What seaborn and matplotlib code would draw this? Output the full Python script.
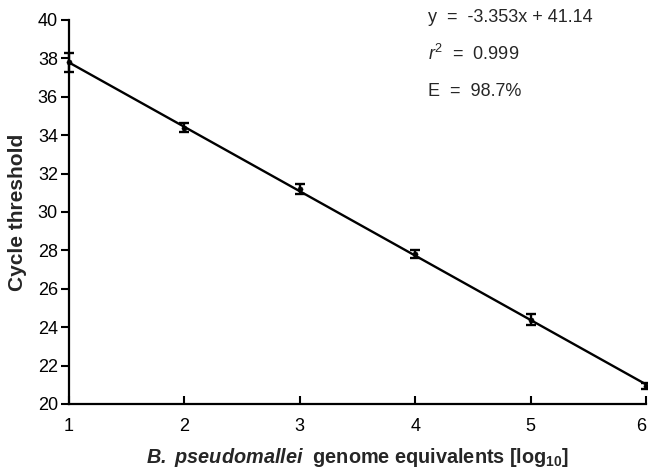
import matplotlib
matplotlib.use("Agg")
import matplotlib.pyplot as plt
import seaborn as sns
import numpy as np
import pandas as pd

# Data
log_ge = [1, 2, 3, 4, 5, 6]
ct_mean = [37.8, 34.4, 31.2, 27.8, 24.4, 20.95]
ct_err = [0.5, 0.25, 0.25, 0.22, 0.3, 0.15]
slope = -3.353
intercept = 41.14
x_ticks = [1, 2, 3, 4, 5, 6]
y_ticks = [20, 22, 24, 26, 28, 30, 32, 34, 36, 38, 40]
eq_lines = ["y  =  -3.353x + 41.14", r"$\mathit{r}^{2}$  =  0.999", "E  =  98.7%"]

sns.set_style("ticks")
plt.rcParams['font.family'] = ['Liberation Sans', 'DejaVu Sans']
plt.rcParams['mathtext.fontset'] = 'custom'
plt.rcParams['mathtext.rm'] = 'Liberation Sans'
plt.rcParams['mathtext.it'] = 'Liberation Sans:italic'
plt.rcParams['mathtext.bf'] = 'Liberation Sans:bold'
plt.rcParams['mathtext.sf'] = 'Liberation Sans:bold:italic'

fig = plt.figure(figsize=(6.48, 4.72), dpi=100)
ax = fig.add_axes([69/648, 1-404/472, (646-69)/648, (404-20)/472])

df = pd.DataFrame({"x": log_ge, "y": ct_mean})
fit_x = np.array([log_ge[0], log_ge[-1]])
fit_df = pd.DataFrame({"x": fit_x, "y": slope*fit_x + intercept})
sns.lineplot(data=fit_df, x="x", y="y", ax=ax, color="black", lw=1.7)
ax.errorbar(log_ge, ct_mean, yerr=ct_err, fmt="none", ecolor="black",
            elinewidth=1.7, capsize=3.5, capthick=1.7, clip_on=False, zorder=3)
sns.scatterplot(data=df, x="x", y="y", ax=ax, color="black", s=14,
                edgecolor="black", zorder=4, clip_on=False)

ax.set_xlim(1, 6)
ax.set_ylim(20, 40)
ax.set_xticks(x_ticks)
ax.set_yticks(y_ticks)
ax.tick_params(axis="y", direction="out", length=6, width=1.5, labelsize=13, pad=2, colors="black")
ax.tick_params(axis="x", direction="in", length=6, width=1.5, labelsize=13, pad=10, colors="black")
for s in ["top", "right"]:
    ax.spines[s].set_visible(False)
for s in ["left", "bottom"]:
    ax.spines[s].set_linewidth(1.6)
    ax.spines[s].set_color("black")
ax.set_xticklabels([str(v) for v in x_ticks])
lbl6 = ax.get_xticklabels()[-1]
lbl6.set_horizontalalignment("right")

ax.set_ylabel("Cycle threshold", fontsize=15, fontweight="bold", labelpad=8)
ax.set_xlabel(r"$\mathsf{B.\ pseudomallei}$  genome equivalents [log$_{\mathbf{10}}$]",
              fontsize=14.3, fontweight="bold", labelpad=8)

ys = [17, 54, 91]
for t, yy in zip(eq_lines, ys):
    fig.text(428/648, 1-yy/472, t, fontsize=13, va="center", ha="left")

fig.savefig("out.png", dpi=100)
